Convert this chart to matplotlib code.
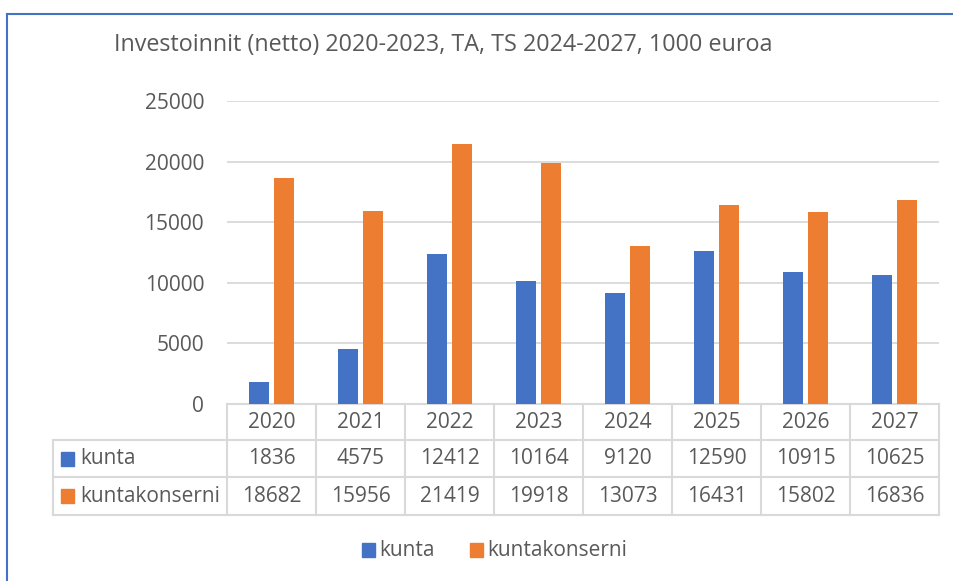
import matplotlib.pyplot as plt
from matplotlib.lines import Line2D
from matplotlib.patches import Rectangle

years = ["2020", "2021", "2022", "2023", "2024", "2025", "2026", "2027"]
kunta = [1836, 4575, 12412, 10164, 9120, 12590, 10915, 10625]
konserni = [18682, 15956, 21419, 19918, 13073, 16431, 15802, 16836]
series_names = ["kunta", "kuntakonserni"]
title = "Investoinnit (netto) 2020-2023, TA, TS 2024-2027, 1000 euroa"

BLUE = "#4472C4"
ORANGE = "#ED7D31"
TXT = "#595959"
GRID = "#D9D9D9"

W, H = 954, 581
plt.rcParams["font.family"] = ["Open Sans", "DejaVu Sans"]

fig = plt.figure(figsize=(W / 100, H / 100), dpi=100)


def fx(px):
    return px / W


def fy(py):
    return 1 - py / H


# plot area in pixels
x0, x1 = 227, 939
y_top, y_zero = 101, 404
ax = fig.add_axes([fx(x0), fy(y_zero), fx(x1 - x0), (y_zero - y_top) / H])

n = len(years)
pos = list(range(n))
bw = 0.225
ax.bar([p - 0.14 for p in pos], kunta, bw, color=BLUE, zorder=3)
ax.bar([p + 0.14 for p in pos], konserni, bw, color=ORANGE, zorder=3)
ax.set_xlim(-0.5, n - 0.5)
ax.set_ylim(0, 25000)
ax.set_yticks(range(0, 25001, 5000))
ax.tick_params(axis="y", length=0, pad=16.5, labelsize=15, labelcolor=TXT)
ax.set_xticks([])
ax.grid(axis="y", color=GRID, linewidth=1.3, zorder=0)
for s in ["top", "right", "left"]:
    ax.spines[s].set_visible(False)
ax.spines["bottom"].set_color(GRID)
ax.spines["bottom"].set_linewidth(1.5)

# data table below the axes
col_w = (x1 - x0) / n
tab_left = 53
rows_y = [404, 440, 477, 515]


def hline(xa, xb, y):
    fig.add_artist(Line2D([fx(xa), fx(xb)], [fy(y), fy(y)], color=GRID, lw=1.5))


def vline(x, ya, yb):
    fig.add_artist(Line2D([fx(x), fx(x)], [fy(ya), fy(yb)], color=GRID, lw=1.5))


hline(tab_left, x1, rows_y[1])
hline(tab_left, x1, rows_y[2])
hline(tab_left, x1, rows_y[3])
vline(tab_left, rows_y[1], rows_y[3])
for i in range(n + 1):
    vline(x0 + i * col_w, rows_y[0], rows_y[3])

fs = 15
for i, yr in enumerate(years):
    cx = x0 + (i + 0.5) * col_w
    fig.text(fx(cx), fy((rows_y[0] + rows_y[1]) / 2), yr, ha="center", va="center",
             fontsize=fs, color=TXT)
    fig.text(fx(cx), fy((rows_y[1] + rows_y[2]) / 2), str(kunta[i]), ha="center",
             va="center", fontsize=fs, color=TXT)
    fig.text(fx(cx), fy((rows_y[2] + rows_y[3]) / 2), str(konserni[i]), ha="center",
             va="center", fontsize=fs, color=TXT)

for r, (name, col) in enumerate(zip(series_names, [BLUE, ORANGE])):
    cy = (rows_y[r + 1] + rows_y[r + 2]) / 2
    fig.add_artist(Rectangle((fx(61), fy(cy + 7)), fx(13), 14 / H, color=col))
    fig.text(fx(80), fy(cy), name, ha="left", va="center", fontsize=fs, color=TXT)

# legend
leg_y = 550
for name, col, lx in zip(series_names, [BLUE, ORANGE], [362, 470]):
    fig.add_artist(Rectangle((fx(lx), fy(leg_y + 7)), fx(13), 14 / H, color=col))
    fig.text(fx(lx + 17), fy(leg_y), name, ha="left", va="center", fontsize=fs, color=TXT)

fig.text(fx(114), fy(45), title, ha="left", va="center", fontsize=16.8, color=TXT)

# chart border (top and left edges visible)
fig.add_artist(Line2D([fx(7), 1], [fy(14), fy(14)], color=BLUE, lw=1.5))
fig.add_artist(Line2D([fx(7), fx(7)], [fy(14), 0], color=BLUE, lw=1.5))

fig.savefig("out.png", dpi=100)
